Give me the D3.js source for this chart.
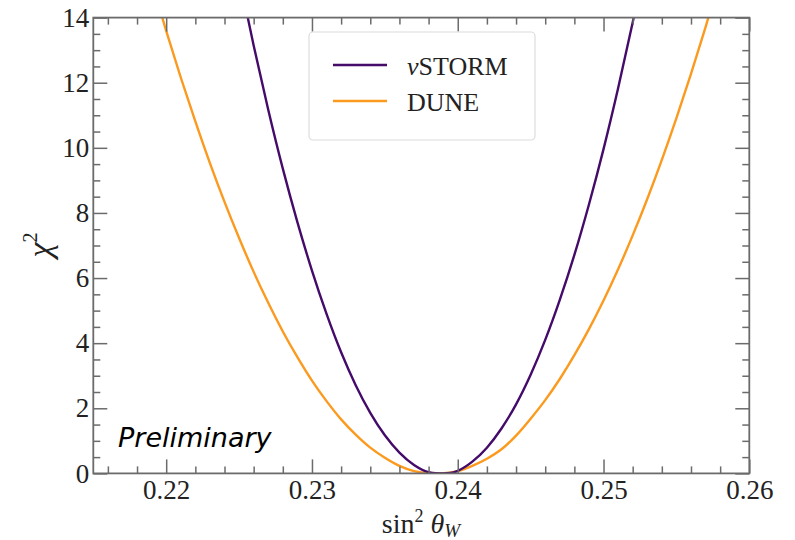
<!DOCTYPE html>
<html><head><meta charset="utf-8">
<script src="https://cdn.jsdelivr.net/npm/d3@7"></script>
<style>body{margin:0;background:#fff} svg{display:block}</style>
</head><body><svg id="c" width="795" height="540"></svg>
<script>
// ---- data ----
const xTicks = [0.22, 0.23, 0.24, 0.25, 0.26];
const xTickLabels = ["0.22", "0.23", "0.24", "0.25", "0.26"];
const yTicks = [0, 2, 4, 6, 8, 10, 12, 14];
const yTickLabels = ["0", "2", "4", "6", "8", "10", "12", "14"];
const seriesNames = ["νSTORM", "DUNE"];

const stormX = [0.225,0.226,0.227,0.228,0.229,0.230,0.231,0.232,0.233,0.234,0.235,0.236,0.237,0.238,0.2385,0.239,0.2395,0.240,0.241,0.242,0.243,0.244,0.245,0.246,0.247,0.248,0.249,0.250,0.251,0.252,0.253];
const stormChi2 = [15.27,13.14,11.17,9.36,7.72,6.23,4.90,3.72,2.71,1.86,1.17,0.64,0.26,0.04,0.006,0.0,0.012,0.08,0.36,0.79,1.38,2.12,3.03,4.10,5.33,6.71,8.26,9.96,11.83,13.85,16.03];

const duneX = [0.219,0.220,0.221,0.222,0.223,0.224,0.225,0.226,0.227,0.228,0.229,0.230,0.231,0.232,0.233,0.234,0.235,0.236,0.237,0.238,0.239,0.240,0.241,0.242,0.243,0.244,0.245,0.246,0.247,0.248,0.249,0.250,0.251,0.252,0.253,0.254,0.255,0.256,0.257,0.258];
const duneChi2 = [15.11,13.59,12.16,10.81,9.53,8.34,7.23,6.19,5.24,4.36,3.57,2.85,2.22,1.66,1.19,0.79,0.48,0.23,0.07,0.01,0.004,0.07,0.23,0.45,0.74,1.16,1.68,2.25,2.90,3.63,4.43,5.31,6.27,7.31,8.43,9.63,10.91,12.27,13.71,15.23];

// ---- layout ----
const L = 93.3, R = 749.3, T = 17.6, B = 473.4;
const svg = d3.select("#c");
const x = d3.scaleLinear().domain([0.215, 0.26]).range([L, R]);
const y = d3.scaleLinear().domain([0, 14]).range([B, T]);
const axisColor = "#6b6b6b";
const serif = "'Liberation Serif', 'DejaVu Serif', serif";

svg.append("defs").append("clipPath").attr("id", "clip")
  .append("rect").attr("x", L).attr("y", T).attr("width", R - L).attr("height", B - T);

// curves
const line = d3.line().x(d => x(d[0])).y(d => y(d[1])).curve(d3.curveMonotoneX);
const colors = ["#440b6a", "#fb9a1e"];
const g = svg.append("g").attr("clip-path", "url(#clip)");
g.append("path").datum(duneX.map((v, i) => [v, duneChi2[i]]))
  .attr("d", line).attr("fill", "none").attr("stroke", colors[1]).attr("stroke-width", 2.4);
g.append("path").datum(stormX.map((v, i) => [v, stormChi2[i]]))
  .attr("d", line).attr("fill", "none").attr("stroke", colors[0]).attr("stroke-width", 2.4);

// axes
const xMinor = d3.range(0.216, 0.2601, 0.002).filter(v => !xTicks.some(t => Math.abs(t - v) < 1e-6));
const yMinor = d3.range(0.5, 14, 0.5).filter(v => !yTicks.some(t => Math.abs(t - v) < 1e-6));

function styleAxis(sel) {
  sel.select(".domain").remove();
  sel.selectAll(".tick line").attr("stroke", axisColor).attr("stroke-width", 1.5);
  sel.selectAll("text").attr("font-family", serif).attr("font-size", 27).attr("fill", "#222");
}

const fmtX = (d, i) => xTickLabels[i];
const fmtY = (d, i) => yTickLabels[i];

// bottom
svg.append("g").attr("transform", `translate(0,${B})`)
  .call(d3.axisBottom(x).tickValues(xTicks).tickFormat(fmtX).tickSize(-14).tickPadding(6))
  .call(styleAxis);
svg.append("g").attr("transform", `translate(0,${B})`)
  .call(d3.axisBottom(x).tickValues(xMinor).tickFormat("").tickSize(-7)).call(styleAxis);
// top
svg.append("g").attr("transform", `translate(0,${T})`)
  .call(d3.axisTop(x).tickValues(xTicks).tickFormat("").tickSize(-14)).call(styleAxis);
svg.append("g").attr("transform", `translate(0,${T})`)
  .call(d3.axisTop(x).tickValues(xMinor).tickFormat("").tickSize(-7)).call(styleAxis);
// left
svg.append("g").attr("transform", `translate(${L},0)`)
  .call(d3.axisLeft(y).tickValues(yTicks).tickFormat(fmtY).tickSize(-14).tickPadding(4))
  .call(styleAxis);
svg.append("g").attr("transform", `translate(${L},0)`)
  .call(d3.axisLeft(y).tickValues(yMinor).tickFormat("").tickSize(-7)).call(styleAxis);
// right
svg.append("g").attr("transform", `translate(${R},0)`)
  .call(d3.axisRight(y).tickValues(yTicks).tickFormat("").tickSize(-14)).call(styleAxis);
svg.append("g").attr("transform", `translate(${R},0)`)
  .call(d3.axisRight(y).tickValues(yMinor).tickFormat("").tickSize(-7)).call(styleAxis);

// frame
svg.append("rect").attr("x", L).attr("y", T).attr("width", R - L).attr("height", B - T)
  .attr("fill", "none").attr("stroke", axisColor).attr("stroke-width", 1.8);

// legend
const lg = svg.append("g");
lg.append("rect").attr("x", 309).attr("y", 32).attr("width", 226).attr("height", 108).attr("rx", 4)
  .attr("fill", "rgba(255,255,255,0.8)").attr("stroke", "#dcdcdc").attr("stroke-width", 1.2);
const legY = [65, 101];
seriesNames.forEach((n, i) => {
  lg.append("line").attr("x1", 333).attr("x2", 387).attr("y1", legY[i]).attr("y2", legY[i])
    .attr("stroke", colors[i]).attr("stroke-width", 2.4);
  const t = lg.append("text").attr("x", 407).attr("y", legY[i] + 10)
    .attr("font-family", serif).attr("font-size", 26).attr("fill", "#222");
  if (n.startsWith("ν")) {
    t.append("tspan").attr("font-style", "italic").text("ν");
    t.append("tspan").text(n.slice(1));
  } else t.text(n);
});

// axis labels
const xl = svg.append("text").attr("x", 421).attr("y", 533).attr("text-anchor", "middle")
  .attr("font-family", serif).attr("font-size", 28).attr("fill", "#222");
xl.append("tspan").text("sin");
xl.append("tspan").attr("font-size", 18).attr("dy", -11).text("2");
xl.append("tspan").attr("dy", 11).text(" ");
xl.append("tspan").attr("font-style", "italic").text("θ");
xl.append("tspan").attr("font-style", "italic").attr("font-size", 19).attr("dy", 4).text("W");

const yl = svg.append("text").attr("transform", "translate(51,245) rotate(-90)").attr("text-anchor", "middle")
  .attr("font-family", serif).attr("font-size", 34).attr("fill", "#222");
yl.append("tspan").attr("font-style", "italic").text("χ");
yl.append("tspan").attr("font-size", 20).attr("dy", -14).text("2");

// annotation
svg.append("text").attr("x", 118).attr("y", 447).attr("font-family", "'DejaVu Sans', sans-serif")
  .attr("font-style", "italic").attr("font-size", 27).attr("fill", "#000").text("Preliminary");
</script></body></html>
